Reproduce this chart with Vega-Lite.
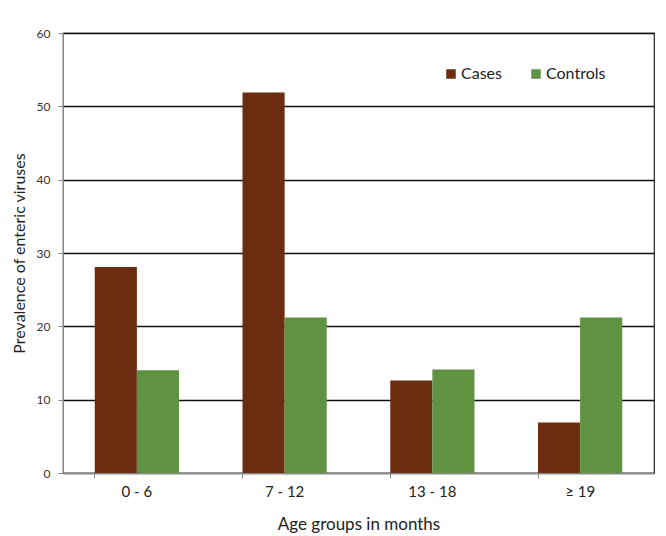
{
  "$schema": "https://vega.github.io/schema/vega-lite/v6.json",
  "autosize": {"type": "none"},
  "width": 591,
  "height": 440,
  "padding": {"left": 63, "top": 33, "right": 12, "bottom": 63},
  "background": "white",
  "config": {
    "font": "Lato",
    "view": {"stroke": "#222", "strokeWidth": 1.2}
  },
  "data": {
    "values": [
      {"age": "0 - 6", "group": "Cases", "value": 28.1},
      {"age": "0 - 6", "group": "Controls", "value": 14.0},
      {"age": "7 - 12", "group": "Cases", "value": 51.9},
      {"age": "7 - 12", "group": "Controls", "value": 21.2},
      {"age": "13 - 18", "group": "Cases", "value": 12.6},
      {"age": "13 - 18", "group": "Controls", "value": 14.1},
      {"age": "≥ 19", "group": "Cases", "value": 6.9},
      {"age": "≥ 19", "group": "Controls", "value": 21.2}
    ]
  },
  "mark": {"type": "bar"},
  "encoding": {
    "x": {
      "field": "age",
      "type": "nominal",
      "sort": ["0 - 6", "7 - 12", "13 - 18", "≥ 19"],
      "scale": {"paddingInner": 0.43, "paddingOuter": 0.215},
      "axis": {
        "title": "Age groups in months",
        "titleFont": "Lato",
        "titleFontSize": 17,
        "titleFontWeight": "normal",
        "titleColor": "#222",
        "titlePadding": 17,
        "labelAngle": 0,
        "labelFontSize": 15,
        "labelColor": "#222",
        "labelPadding": 6,
        "bandPosition": 0,
        "tickSize": 5,
        "tickColor": "#888",
        "domainColor": "#888",
        "grid": false
      }
    },
    "xOffset": {"field": "group", "type": "nominal", "sort": ["Cases", "Controls"]},
    "y": {
      "field": "value",
      "type": "quantitative",
      "scale": {"domain": [0, 60], "nice": false},
      "axis": {
        "title": "Prevalence of  enteric viruses",
        "titleFont": "Lato",
        "titleFontSize": 16,
        "titleFontWeight": "normal",
        "titleColor": "#222",
        "titlePadding": 9,
        "values": [0, 10, 20, 30, 40, 50, 60],
        "labelFontSize": 12,
        "labelColor": "#333",
        "labelPadding": 8,
        "tickSize": 5,
        "tickColor": "#888",
        "domainColor": "#888",
        "grid": true,
        "gridColor": "#111",
        "gridWidth": 1.3,
        "gridOpacity": 1
      }
    },
    "color": {
      "field": "group",
      "type": "nominal",
      "scale": {"domain": ["Cases", "Controls"], "range": ["#6B2C0F", "#5F9342"]},
      "legend": {
        "title": null,
        "orient": "none",
        "legendX": 380,
        "legendY": 33,
        "direction": "horizontal",
        "symbolType": "square",
        "symbolSize": 90,
        "symbolStrokeWidth": 0,
        "symbolOpacity": 1,
        "labelFontSize": 16,
        "labelColor": "#222",
        "labelOffset": 2,
        "columnPadding": 26
      }
    }
  }
}
